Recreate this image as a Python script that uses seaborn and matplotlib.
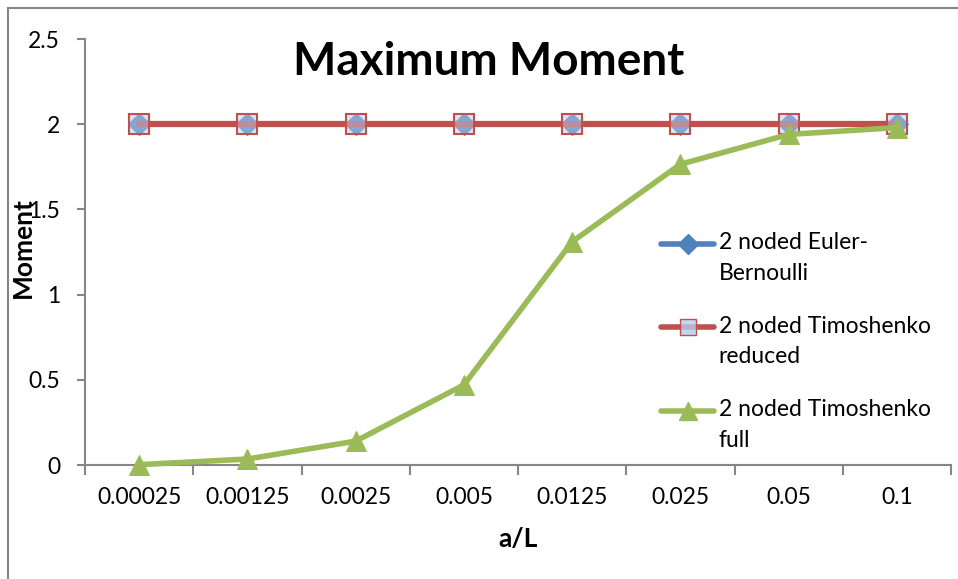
import numpy as np
import pandas as pd
import seaborn as sns
import matplotlib.pyplot as plt
from matplotlib.lines import Line2D
from matplotlib.patches import Rectangle
from matplotlib.legend_handler import HandlerLine2D

# Data
ratios = ['0.00025', '0.00125', '0.0025', '0.005', '0.0125', '0.025', '0.05', '0.1']
euler_bernoulli = [2, 2, 2, 2, 2, 2, 2, 2]
timo_reduced = [2, 2, 2, 2, 2, 2, 2, 2]
timo_full = [0.002, 0.035, 0.14, 0.47, 1.31, 1.765, 1.94, 1.98]

labels = ['2 noded Euler-\nBernoulli', '2 noded Timoshenko\nreduced', '2 noded Timoshenko\nfull']
blue, red, green = '#4F81BD', '#C0504D', '#9BBB59'

pos = np.arange(len(ratios))
df = pd.DataFrame({'pos': pos, 'eb': euler_bernoulli, 'tr': timo_reduced, 'tf': timo_full})

sns.set_style('white')
plt.rcParams['font.family'] = ['Lato', 'DejaVu Sans']
plt.rcParams['text.color'] = 'black'
plt.rcParams['axes.labelcolor'] = 'black'
plt.rcParams['xtick.color'] = 'black'
plt.rcParams['ytick.color'] = 'black'

fs = 16.5

fig = plt.figure(figsize=(9.58, 5.79), dpi=100)
ax = fig.add_axes([85 / 958, 114 / 579, 866 / 958, 426 / 579])

sns.lineplot(data=df, x='pos', y='eb', ax=ax, color=blue, linewidth=4, marker='D',
             markersize=11, markeredgecolor=blue, clip_on=False, zorder=3)
sns.lineplot(data=df, x='pos', y='tr', ax=ax, color=red, linewidth=4.5, marker='s',
             markersize=14, markerfacecolor=(0.72, 0.8, 0.92, 0.5), markeredgecolor=red,
             markeredgewidth=1.5, clip_on=False, zorder=4)
sns.lineplot(data=df, x='pos', y='tf', ax=ax, color=green, linewidth=4, marker='^',
             markersize=15, markeredgecolor=green, clip_on=False, zorder=5)

ax.set_xlim(-0.5, len(ratios) - 0.5)
ax.set_ylim(0, 2.5)
ax.set_xticks(pos)
ax.set_xticklabels(ratios, fontsize=fs)
ax.set_xticks(np.arange(-0.5, len(ratios), 1), minor=True)
ax.set_yticks([0, 0.5, 1, 1.5, 2, 2.5])
ax.set_yticklabels(['0', '0.5', '1', '1.5', '2', '2.5'], fontsize=fs)
ax.tick_params(axis='x', which='major', length=0, pad=16)
ax.tick_params(axis='x', which='minor', length=7, width=1.5, color='#868686', direction='out')
ax.tick_params(axis='y', length=6, width=1.5, color='#868686', direction='out', pad=12, left=True)
ax.tick_params(axis='x', bottom=True, which='both')

for s in ['top', 'right']:
    ax.spines[s].set_visible(False)
for s in ['left', 'bottom']:
    ax.spines[s].set_color('#868686')
    ax.spines[s].set_linewidth(1.5)

ax.set_xlabel('a/L', fontsize=19, fontweight='bold')
ax.xaxis.set_label_coords(0.5, -0.145)
ax.set_ylabel('Moment', fontsize=19, fontweight='bold')
ax.yaxis.set_label_coords(-0.058, 0.51)

fig.text(489 / 958, 1 - 62 / 579, 'Maximum Moment', fontsize=33, fontweight='bold',
         ha='center', va='center')


# legend marker sits on the first text line, like Excel
class FirstLineHandler(HandlerLine2D):
    def create_artists(self, legend, orig_handle, xdescent, ydescent, width, height, fontsize, trans):
        return super().create_artists(legend, orig_handle, xdescent, ydescent - 1.3 * fontsize,
                                      width, height, fontsize, trans)


handles = [
    Line2D([], [], color=blue, linewidth=4, marker='D', markersize=10, markeredgecolor=blue),
    Line2D([], [], color=red, linewidth=4, marker='s', markersize=12,
           markerfacecolor=(0.72, 0.8, 0.92, 0.8), markeredgecolor=red),
    Line2D([], [], color=green, linewidth=4, marker='^', markersize=13, markeredgecolor=green),
]
leg = ax.legend(handles, labels, loc='upper left', bbox_to_anchor=(650 / 958, 1 - 221 / 579),
                bbox_transform=fig.transFigure, frameon=False, fontsize=fs,
                handlelength=2.3, handletextpad=0.2, labelspacing=1.4, borderpad=0,
                handler_map={Line2D: FirstLineHandler()})
for t in leg.get_texts():
    t.set_linespacing(1.55)

fig.add_artist(Rectangle((8 / 958, -0.05), 1.0, 1 - 8 / 579 + 0.05, transform=fig.transFigure,
                         fill=False, edgecolor='#868686', linewidth=1.5))

fig.savefig('out.png', dpi=100)
